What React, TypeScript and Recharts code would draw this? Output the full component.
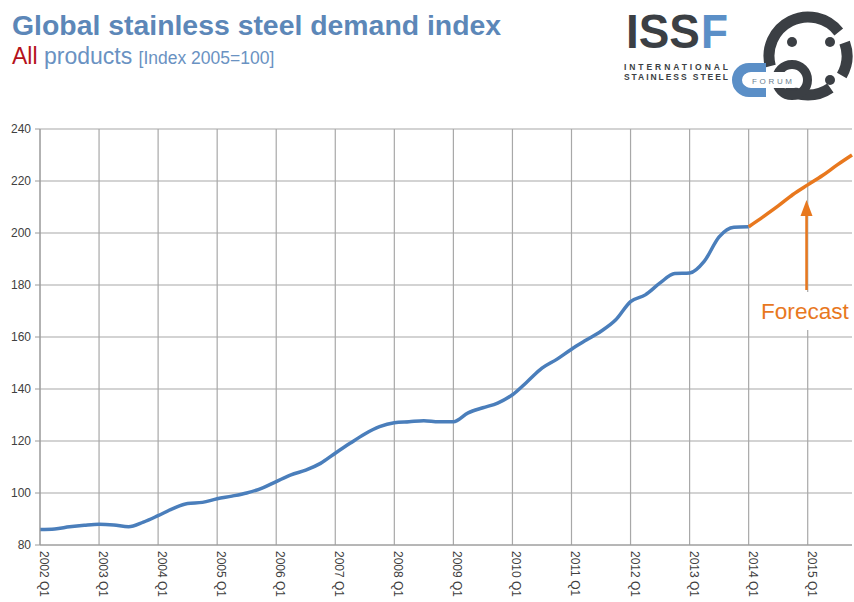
import { LineChart, Line, XAxis, YAxis, CartesianGrid, ReferenceLine } from "recharts";

const years = [2002, 2003, 2004, 2005, 2006, 2007, 2008, 2009, 2010, 2011, 2012, 2013, 2014, 2015];
const quarterNames = ["Q1", "Q2", "Q3", "Q4"];

// 2002 Q1 .. 2014 Q1
const actual = [
  86, 86.2, 87, 87.6,
  88, 87.7, 87, 88.8,
  91.3, 94, 96, 96.4,
  97.8, 98.8, 100, 101.8,
  104.4, 107, 108.8, 111.4,
  115.3, 119.1, 122.7, 125.5,
  127, 127.4, 127.8, 127.4,
  127.4, 130.8, 132.8, 134.6,
  137.8, 142.8, 148, 151.4,
  155.3, 158.8, 162.2, 166.6,
  173.6, 176.2, 180.8, 184.4,
  184.6, 189.2, 198.5, 202.2,
  202.4,
];

// 2014 Q1 .. 2015 Q4
const forecast = [202.4, 206.3, 210.4, 214.8, 218.5, 222.1, 226.2, 230];

const yTicks = [80, 100, 120, 140, 160, 180, 200, 220, 240];

const quarters = years.flatMap((y) => quarterNames.map((q) => `${y} ${q}`));
const yearStarts = quarters.filter((q) => q.endsWith("Q1"));
const forecastStart = quarters.indexOf("2014 Q1");

const data = quarters.map((q, i) => ({
  q,
  actual: i < actual.length ? actual[i] : null,
  forecast: i >= forecastStart ? forecast[i - forecastStart] : null,
}));

const FONT = "'Liberation Sans', Arial, sans-serif";
const BLUE = "#4a7ebb";
const ORANGE = "#e8781e";
const GRID = "#a8a8a8";

function QuarterTick({ x, y, payload }: any) {
  return (
    <text
      x={x}
      y={y}
      transform={`rotate(90, ${x}, ${y})`}
      fontSize={12}
      fill="#404040"
      fontFamily={FONT}
    >
      {payload.value}
    </text>
  );
}

function arc(cx: number, cy: number, r: number, a0: number, a1: number) {
  const p = (a: number) => [cx + r * Math.cos((a * Math.PI) / 180), cy + r * Math.sin((a * Math.PI) / 180)];
  let span = a1 - a0;
  if (span < 0) span += 360;
  const [x0, y0] = p(a0);
  const [x1, y1] = p(a1);
  return `M${x0} ${y0} A${r} ${r} 0 ${span > 180 ? 1 : 0} 1 ${x1} ${y1}`;
}

function Header() {
  const dark = "#3b3f44";
  const logoBlue = "#5b8fc7";
  return (
    <svg width={854} height={120} style={{ position: "absolute", left: 0, top: 0 }}>
      <text x={12} y={35} fontFamily={FONT} fontWeight="bold" fontSize={28.4} fill="#5c87b8">
        Global stainless steel demand index
      </text>
      <text x={12} y={64} fontFamily={FONT} fontSize={23}>
        <tspan fill="#b5121b">All</tspan>
        <tspan fill="#6a92c2"> products </tspan>
        <tspan fill="#6a92c2" fontSize={17.5}>[Index 2005=100]</tspan>
      </text>

      {/* ISSF logo */}
      <text x={626} y={48} fontFamily={FONT} fontWeight="bold" fontSize={48} fill={dark} textLength={74} lengthAdjust="spacingAndGlyphs">
        ISS
      </text>
      <text x={701} y={48} fontFamily={FONT} fontWeight="bold" fontSize={48} fill={logoBlue} textLength={27} lengthAdjust="spacingAndGlyphs">
        F
      </text>
      <text x={624} y={70} fontFamily={FONT} fontWeight="bold" fontSize={8.5} fill={dark} textLength={104} lengthAdjust="spacing">
        INTERNATIONAL
      </text>
      <text x={624} y={80} fontFamily={FONT} fontWeight="bold" fontSize={8.5} fill={dark} textLength={104} lengthAdjust="spacing">
        STAINLESS STEEL
      </text>
      <g fill="none" stroke={dark} strokeWidth={11}>
        <path d={arc(808, 56, 39, 165, 322)} />
        <path d={arc(808, 56, 39, 340, 30)} />
        <path d={arc(808, 56, 39, 55, 125)} />
        <circle cx={792} cy={80} r={15.5} strokeWidth={9} />
      </g>
      <path d="M766 68 L749 68 A12 12 0 0 0 749 92 L766 92" fill="none" stroke={logoBlue} strokeWidth={10} />
      <rect x={743} y={72} width={59} height={16} rx={8} fill="#fff" />
      <text x={752} y={83.5} fontFamily={FONT} fontSize={8} fill="#6d7f90" textLength={40} lengthAdjust="spacing">
        FORUM
      </text>
      <g fill={dark}>
        <circle cx={792} cy={42} r={5} />
        <circle cx={830} cy={42} r={5} />
        <circle cx={830} cy={80} r={5} />
      </g>
    </svg>
  );
}

function ForecastNote() {
  return (
    <svg width={854} height={602} style={{ position: "absolute", left: 0, top: 0 }}>
      <rect x={758} y={292} width={95} height={38} fill="#fff" />
      <line x1={806.5} y1={290} x2={806.5} y2={213} stroke={ORANGE} strokeWidth={2.5} />
      <polygon points="806.5,200 800.5,216 812.5,216" fill={ORANGE} />
      <text x={761} y={319} fontFamily={FONT} fontSize={22.6} fill={ORANGE}>
        Forecast
      </text>
    </svg>
  );
}

export default function App() {
  return (
    <div
      style={{
        position: "absolute",
        left: 0,
        top: 0,
        width: 854,
        height: 602,
        background: "#fff",
        overflow: "hidden",
      }}
    >
      <div style={{ position: "absolute", left: 0, top: 0 }}>
        <LineChart width={854} height={602} data={data} margin={{ top: 129, right: 2, bottom: 0, left: 0 }}>
          <CartesianGrid vertical={false} stroke={GRID} strokeWidth={1.2} />
          {yearStarts.map((q) => (
            <ReferenceLine key={q} x={q} stroke={GRID} strokeWidth={1.2} />
          ))}
          <XAxis
            dataKey="q"
            interval={3}
            height={57}
            tickLine={false}
            tickMargin={0}
            tick={<QuarterTick />}
            axisLine={{ stroke: "#9a9a9a" }}
          />
          <YAxis
            domain={[80, 240]}
            ticks={yTicks}
            width={40}
            tickSize={5}
            tickMargin={4}
            axisLine={{ stroke: "#9a9a9a" }}
            tickLine={{ stroke: "#9a9a9a" }}
            tick={{ fontSize: 12, fill: "#404040", fontFamily: FONT }}
          />
          <Line
            type="monotone"
            dataKey="actual"
            stroke={BLUE}
            strokeWidth={3.5}
            dot={false}
            isAnimationActive={false}
          />
          <Line
            type="monotone"
            dataKey="forecast"
            stroke={ORANGE}
            strokeWidth={3.5}
            dot={false}
            isAnimationActive={false}
          />
        </LineChart>
      </div>
      <ForecastNote />
      <Header />
    </div>
  );
}
